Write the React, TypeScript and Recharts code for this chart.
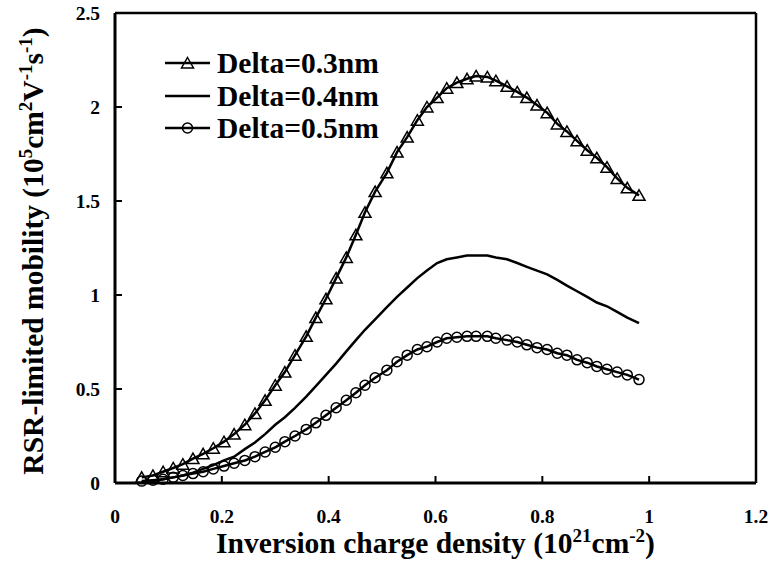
import React from "react";
import { Label, Legend, Line, LineChart, ReferenceLine, XAxis, YAxis } from "recharts";

const FONT = '"Liberation Serif", "Times New Roman", serif';

// inversion charge density (10^21 cm^-2)
const chargeDensity = [
  0.05, 0.071, 0.09, 0.109, 0.127, 0.146, 0.165, 0.184, 0.204, 0.223,
  0.243, 0.262, 0.281, 0.3, 0.318, 0.337, 0.358, 0.376, 0.395, 0.414,
  0.433, 0.451, 0.468, 0.487, 0.509, 0.528, 0.547, 0.566, 0.584, 0.603,
  0.621, 0.64, 0.659, 0.676, 0.697, 0.713, 0.734, 0.753, 0.771, 0.79,
  0.809, 0.828, 0.846, 0.865, 0.884, 0.902, 0.921, 0.94, 0.959, 0.981,
];

// RSR-limited mobility (10^5 cm^2 V^-1 s^-1)
const delta03 = [
  0.03, 0.04, 0.06, 0.08, 0.1, 0.13, 0.155, 0.185, 0.22, 0.26,
  0.31, 0.37, 0.44, 0.52, 0.59, 0.68, 0.78, 0.88, 0.98, 1.09,
  1.2, 1.32, 1.44, 1.55, 1.65, 1.76, 1.84, 1.93, 2.0, 2.05,
  2.1, 2.13, 2.15, 2.165, 2.16, 2.14, 2.11, 2.08, 2.05, 2.01,
  1.97, 1.91, 1.87, 1.82, 1.77, 1.73, 1.68, 1.62, 1.57, 1.53,
];

const delta04 = [
  0.005, 0.01, 0.02, 0.03, 0.04, 0.055, 0.075, 0.095, 0.12, 0.14,
  0.18, 0.215, 0.26, 0.31, 0.35, 0.4, 0.46, 0.515, 0.575, 0.635,
  0.7, 0.76, 0.815, 0.87, 0.935, 0.99, 1.04, 1.09, 1.13, 1.17,
  1.19, 1.2, 1.21, 1.21, 1.21, 1.2, 1.19, 1.17, 1.15, 1.13,
  1.11, 1.08, 1.05, 1.02, 0.99, 0.96, 0.94, 0.91, 0.88, 0.85,
];

const delta05 = [
  0.01, 0.015, 0.02, 0.03, 0.04, 0.05, 0.06, 0.075, 0.09, 0.105,
  0.12, 0.14, 0.165, 0.19, 0.22, 0.25, 0.285, 0.32, 0.36, 0.4,
  0.44, 0.48, 0.52, 0.56, 0.6, 0.645, 0.68, 0.71, 0.725, 0.75,
  0.77, 0.775, 0.78, 0.78, 0.78, 0.77, 0.76, 0.75, 0.735, 0.72,
  0.71, 0.69, 0.68, 0.655, 0.64, 0.62, 0.605, 0.59, 0.575, 0.55,
];

const xTicks = [0, 0.2, 0.4, 0.6, 0.8, 1, 1.2];
const yTicks = [0, 0.5, 1, 1.5, 2, 2.5];
const seriesNames = ["Delta=0.3nm", "Delta=0.4nm", "Delta=0.5nm"];
const seriesKeys = ["d03", "d04", "d05"];
const seriesMarkers = ["triangle", "none", "circle"];

const data = chargeDensity.map((x, i) => ({
  x,
  d03: delta03[i],
  d04: delta04[i],
  d05: delta05[i],
}));

const X_GAP = 26;
const Y_GAP = 15;
const TICK_LEN = 7;
const TICK_FONT = 19.5;
const TITLE_FONT = 29.5;

function marker(kind: string, cx: number, cy: number, key?: string) {
  if (kind === "triangle") {
    return (
      <path
        key={key}
        d={`M${cx},${cy - 5.5} L${cx + 6},${cy + 5} L${cx - 6},${cy + 5} Z`}
        fill="none"
        stroke="#000"
        strokeWidth={1.5}
      />
    );
  }
  if (kind === "circle") {
    return <circle key={key} cx={cx} cy={cy} r={5} fill="none" stroke="#000" strokeWidth={1.5} />;
  }
  return <g key={key} />;
}

function YTick(props: any) {
  const { x, y, payload } = props;
  return (
    <g>
      <line x1={x + Y_GAP} x2={x + Y_GAP + TICK_LEN} y1={y} y2={y} stroke="#000" strokeWidth={2} />
      <text x={x} y={y} dy="0.35em" textAnchor="end" fontFamily={FONT} fontWeight="bold" fontSize={TICK_FONT} fill="#000">
        {String(payload.value)}
      </text>
    </g>
  );
}

function XTick(props: any) {
  const { x, y, payload } = props;
  return (
    <g>
      <line x1={x} x2={x} y1={y - X_GAP} y2={y - X_GAP - TICK_LEN} stroke="#000" strokeWidth={2} />
      <text x={x} y={y} dy="0.71em" textAnchor="middle" fontFamily={FONT} fontWeight="bold" fontSize={TICK_FONT} fill="#000">
        {String(payload.value)}
      </text>
    </g>
  );
}

function XTitle(props: any) {
  const vb = props.viewBox;
  return (
    <text
      x={vb.x + vb.width / 2}
      y={vb.y + 70}
      textAnchor="middle"
      fontFamily={FONT}
      fontWeight="bold"
      fontSize={TITLE_FONT}
      fill="#000"
    >
      Inversion charge density (10
      <tspan dy={-11} fontSize={19}>21</tspan>
      <tspan dy={11}>cm</tspan>
      <tspan dy={-11} fontSize={19}>-2</tspan>
      <tspan dy={11}>)</tspan>
    </text>
  );
}

function YTitle(props: any) {
  const vb = props.viewBox;
  const cx = vb.x + 43;
  const cy = vb.y + vb.height / 2 + 3;
  return (
    <text
      x={cx}
      y={cy}
      transform={`rotate(-90, ${cx}, ${cy})`}
      textAnchor="middle"
      fontFamily={FONT}
      fontWeight="bold"
      fontSize={TITLE_FONT}
      fill="#000"
    >
      RSR-limited mobility (10
      <tspan dy={-11} fontSize={19}>5</tspan>
      <tspan dy={11}>cm</tspan>
      <tspan dy={-11} fontSize={19}>2</tspan>
      <tspan dy={11}>V</tspan>
      <tspan dy={-11} fontSize={19}>-1</tspan>
      <tspan dy={11}>s</tspan>
      <tspan dy={-11} fontSize={19}>-1</tspan>
      <tspan dy={11}>)</tspan>
    </text>
  );
}

function renderLegend() {
  return (
    <div style={{ fontFamily: FONT, fontWeight: "bold", fontSize: TITLE_FONT, color: "#000" }}>
      {seriesNames.map((name, i) => (
        <div key={name} style={{ display: "flex", alignItems: "center", height: 32.5, lineHeight: "32px" }}>
          <svg width={52} height={20} style={{ display: "block" }}>
            <line x1={0} x2={45} y1={10} y2={10} stroke="#000" strokeWidth={2.5} />
            {marker(seriesMarkers[i], 22.5, 10)}
          </svg>
          <span>{name}</span>
        </div>
      ))}
    </div>
  );
}

export default function App() {
  return (
    <div style={{ position: "absolute", left: 0, top: 0, width: 771, height: 562, background: "#fff" }}>
      <LineChart width={771} height={562} data={data} margin={{ top: 13, right: 15, bottom: 0, left: 0 }}>
        <XAxis
          dataKey="x"
          type="number"
          domain={[0, 1.2]}
          ticks={xTicks}
          height={79}
          tickSize={0}
          tickMargin={X_GAP}
          tick={<XTick />}
          axisLine={{ stroke: "#000", strokeWidth: 3 }}
        >
          <Label content={<XTitle />} />
        </XAxis>
        <YAxis
          type="number"
          domain={[0, 2.5]}
          ticks={yTicks}
          width={115}
          tickSize={0}
          tickMargin={Y_GAP}
          tick={<YTick />}
          axisLine={{ stroke: "#000", strokeWidth: 3 }}
        >
          <Label content={<YTitle />} />
        </YAxis>
        <ReferenceLine y={2.5} stroke="#000" strokeWidth={2.5} />
        <ReferenceLine x={1.2} stroke="#000" strokeWidth={2.5} />
        <Legend
          layout="vertical"
          verticalAlign="middle"
          align="center"
          content={renderLegend}
          wrapperStyle={{ top: 47, left: 165, width: "auto", height: "auto" }}
        />
        {seriesKeys.map((key, i) => (
          <Line
            key={key}
            dataKey={key}
            name={seriesNames[i]}
            type="linear"
            stroke="#000"
            strokeWidth={2.5}
            isAnimationActive={false}
            dot={
              seriesMarkers[i] === "none"
                ? false
                : (p: any) => marker(seriesMarkers[i], p.cx, p.cy, `${key}-${p.index}`)
            }
            activeDot={false}
          />
        ))}
      </LineChart>
    </div>
  );
}
